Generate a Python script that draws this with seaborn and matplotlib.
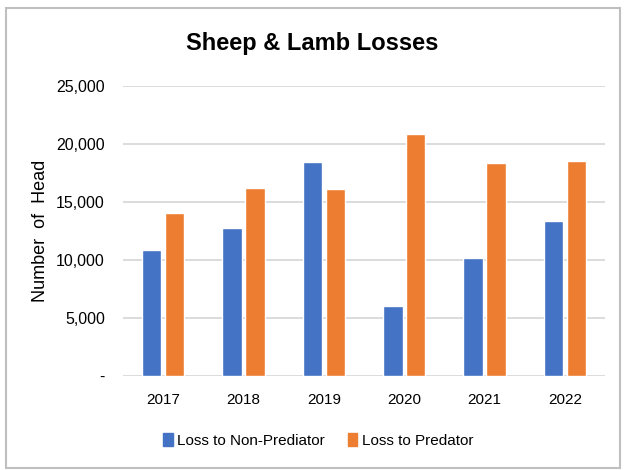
"""
Sheep & Lamb Losses - grouped bar chart
"""
import matplotlib
matplotlib.use("Agg")
import matplotlib.pyplot as plt
import matplotlib.patches as mpatches
import seaborn as sns
import pandas as pd

# ========== Data ==========
years = ["2017", "2018", "2019", "2020", "2021", "2022"]
non_predator = [10900, 12800, 18450, 6050, 10200, 13400]
predator = [14100, 16200, 16150, 20900, 18350, 18600]
series_names = ["Loss to Non-Prediator", "Loss to Predator"]
y_ticks = [0, 5000, 10000, 15000, 20000, 25000]
y_tick_labels = ["-", "5,000", "10,000", "15,000", "20,000", "25,000"]

colors = ["#4472C4", "#ED7D31"]

df = pd.DataFrame({
    "Year": years * 2,
    "Head": non_predator + predator,
    "Series": [series_names[0]] * len(years) + [series_names[1]] * len(years),
})

# ========== Plot ==========
sns.set_theme(style="white")
plt.rcParams["font.family"] = ["Liberation Sans", "DejaVu Sans"]
plt.rcParams["text.color"] = "black"

fig = plt.figure(figsize=(6.24, 4.70), dpi=100)
ax = fig.add_axes([0.197, 0.2, 0.773, 0.616])

sns.barplot(data=df, x="Year", y="Head", hue="Series", palette=colors,
            width=0.57, gap=0.15, ax=ax, saturation=1, legend=False)

ax.set_ylim(0, 25000)
ax.set_yticks(y_ticks)
ax.set_yticklabels(y_tick_labels, fontsize=11.5, color="black")
ax.tick_params(axis="x", labelsize=11, colors="black", length=0, pad=12)
ax.tick_params(axis="y", length=0, pad=13)

ax.yaxis.grid(True, color="#d9d9d9", linewidth=1.3)
ax.set_axisbelow(True)
for s in ax.spines.values():
    s.set_visible(False)

ax.set_xlabel("")
ax.set_ylabel("Number  of  Head", fontsize=13, color="black", labelpad=5)

fig.text(0.5, 0.908, "Sheep & Lamb Losses", ha="center", va="center",
         fontsize=17, fontweight="bold", color="black")

handles = [mpatches.Patch(color=c, label=n) for c, n in zip(colors, series_names)]
fig.legend(handles=handles, loc="center", bbox_to_anchor=(0.51, 0.063), ncol=2,
           frameon=False, fontsize=11, handlelength=0.6, handleheight=0.9,
           handletextpad=0.3, columnspacing=1.5, labelcolor="black")

# outer chart border
fig.patches.append(mpatches.Rectangle((0.009, 0.004), 0.985, 0.98,
                                      transform=fig.transFigure, fill=False,
                                      edgecolor="#bfbfbf", linewidth=1.5))

fig.savefig("out.png", dpi=100)
plt.close(fig)
